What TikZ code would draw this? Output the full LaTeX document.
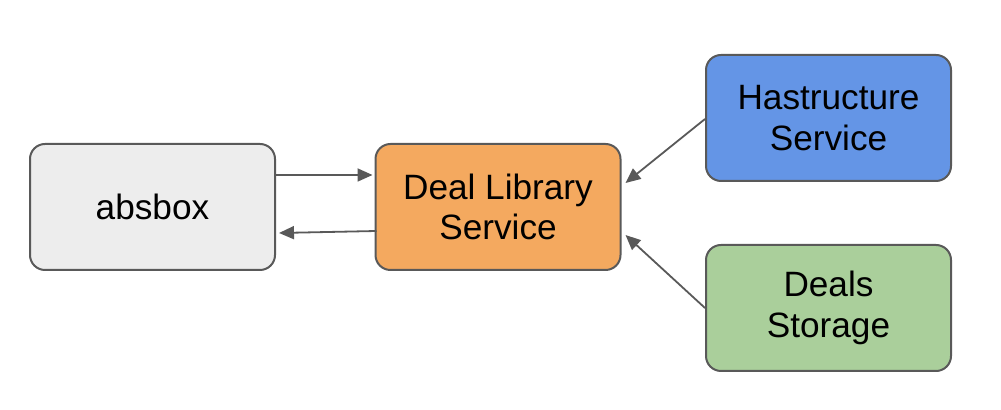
\documentclass[tikz,border=0pt]{standalone}
\usepackage{fontspec}
\setmainfont{Liberation Sans}
\usetikzlibrary{arrows.meta}
\definecolor{edgegray}{HTML}{595959}
\definecolor{boxgray}{HTML}{EDEDED}
\definecolor{boxorange}{HTML}{F4A95F}
\definecolor{boxblue}{HTML}{6495E6}
\definecolor{boxgreen}{HTML}{AACF9B}
\begin{document}
\begin{tikzpicture}[x=0.5pt, y=-0.5pt,
  svcbox/.style={draw=edgegray, line width=1pt, rounded corners=7.5pt,
    minimum width=122.5pt, minimum height=63pt, align=center,
    font=\fontsize{17.6}{20.2}\selectfont, inner sep=0pt},
  flow/.style={draw=edgegray, line width=0.9pt, -{Triangle[length=7.5pt,width=6.5pt]}}]
\useasboundingbox (0,0) rectangle (1001,410);

\node[svcbox, fill=boxgray] (absbox) at (152.5,207) {absbox};
\node[svcbox, fill=boxorange] (dls) at (498,207) {Deal Library\\Service};
\node[svcbox, fill=boxblue] (hast) at (828.5,118) {Hastructure\\Service};
\node[svcbox, fill=boxgreen] (store) at (828.5,308) {Deals\\Storage};

\draw[flow] ([yshift=16pt]absbox.east) -- ([xshift=-1pt,yshift=16pt]dls.west);
\draw[flow] ([xshift=1pt,yshift=-12pt]dls.west) -- ([xshift=1.5pt,yshift=-13pt]absbox.east);
\draw[flow] ([yshift=-0.5pt]hast.west) -- ([xshift=2pt,yshift=12pt]dls.east);
\draw[flow] ([yshift=0pt]store.west) -- ([xshift=2pt,yshift=-14pt]dls.east);
\end{tikzpicture}
\end{document}
